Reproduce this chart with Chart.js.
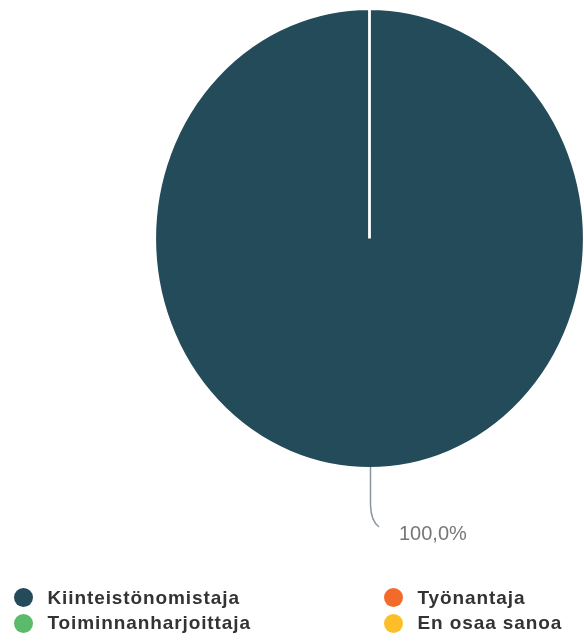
<!DOCTYPE html>
<html>
<head>
<meta charset="utf-8">
<script src="https://cdn.jsdelivr.net/npm/chart.js@4/dist/chart.umd.min.js"></script>
<style>
  html, body { margin: 0; padding: 0; background: #fff; overflow: hidden; width: 584px; height: 641px; }
  #chart { position: absolute; left: 0; top: 0; }
  #legend { position: absolute; left: 0; top: 0; width: 584px; height: 641px; pointer-events: none; }
  .item { position: absolute; height: 24px; display: flex; align-items: center; white-space: nowrap;
          font-family: "Liberation Sans", Arial, sans-serif; font-weight: bold; font-size: 19px;
          color: #333; letter-spacing: 0.9px; }
  .dot { width: 19px; height: 19px; border-radius: 50%; margin-right: 15px; flex: none; }
</style>
</head>
<body>
<canvas id="chart" width="601" height="641"></canvas>
<div id="legend"></div>
<script>
// Answer categories, their shares and colours
const categories = ["Kiinteistönomistaja", "Työnantaja", "Toiminnanharjoittaja", "En osaa sanoa"];
const shares = [100, 0, 0, 0];
const colours = ["#234b5a", "#f26b2a", "#5bbb6b", "#fcbf2a"];

// The pie is drawn a little narrower than it is tall
const SX = 0.934;

const squash = {
  id: 'squash',
  beforeDatasetsDraw(chart) {
    const arc = chart.getDatasetMeta(0).data[0];
    const ctx = chart.ctx;
    ctx.save();
    ctx.translate(arc.x, 0);
    ctx.scale(SX, 1);
    ctx.translate(-arc.x, 0);
  },
  afterDatasetsDraw(chart) {
    chart.ctx.restore();
  }
};

// Percentage label with a curved leader line below each non-empty slice
const leaderLabel = {
  id: 'leaderLabel',
  afterDraw(chart) {
    const ctx = chart.ctx;
    const ds = chart.data.datasets[0];
    const total = ds.data.reduce((a, b) => a + b, 0);
    chart.getDatasetMeta(0).data.forEach((arc, i) => {
      const v = ds.data[i];
      if (!v) return;
      const { x, y, startAngle, endAngle, outerRadius } =
        arc.getProps(['x', 'y', 'startAngle', 'endAngle', 'outerRadius'], true);
      const mid = (startAngle + endAngle) / 2;
      const ax = x + Math.cos(mid) * outerRadius * SX + 1;
      const ay = y + Math.sin(mid) * outerRadius - 1.5;
      ctx.save();
      ctx.strokeStyle = '#8a959c';
      ctx.lineWidth = 1.5;
      ctx.beginPath();
      ctx.moveTo(ax, ay);
      ctx.lineTo(ax, ay + 38);
      ctx.quadraticCurveTo(ax + 0.5, ay + 54, ax + 8.5, ay + 60);
      ctx.stroke();
      ctx.fillStyle = '#777';
      ctx.font = '20px "Liberation Sans", Arial, sans-serif';
      ctx.textAlign = 'left';
      ctx.textBaseline = 'alphabetic';
      const txt = (v / total * 100).toFixed(1).replace('.', ',') + '%';
      ctx.fillText(txt, ax + 28.5, ay + 73);
      ctx.restore();
    });
  }
};

const chart = new Chart(document.getElementById('chart'), {
  type: 'pie',
  data: {
    labels: categories,
    datasets: [{
      data: shares,
      backgroundColor: colours,
      borderColor: '#ffffff',
      borderWidth: 3
    }]
  },
  options: {
    responsive: false,
    devicePixelRatio: 1,
    animation: false,
    layout: { padding: { left: 138, right: 0, top: 7, bottom: 171 } },
    plugins: {
      legend: { display: false },
      tooltip: { enabled: false }
    }
  },
  plugins: [squash, leaderLabel]
});

// Two-column legend built from the chart's own legend items
const legendEl = document.getElementById('legend');
const colX = [13.5, 383.5];
const rowY = [597.5, 623];
const items = chart.options.plugins.legend.labels.generateLabels(chart);
items.forEach((it, i) => {
  const div = document.createElement('div');
  div.className = 'item';
  div.style.left = colX[i % 2] + 'px';
  div.style.top = (rowY[Math.floor(i / 2)] - 12) + 'px';
  const dot = document.createElement('span');
  dot.className = 'dot';
  dot.style.background = it.fillStyle;
  const label = document.createElement('span');
  label.textContent = it.text;
  div.appendChild(dot);
  div.appendChild(label);
  legendEl.appendChild(div);
});
</script>
</body>
</html>
